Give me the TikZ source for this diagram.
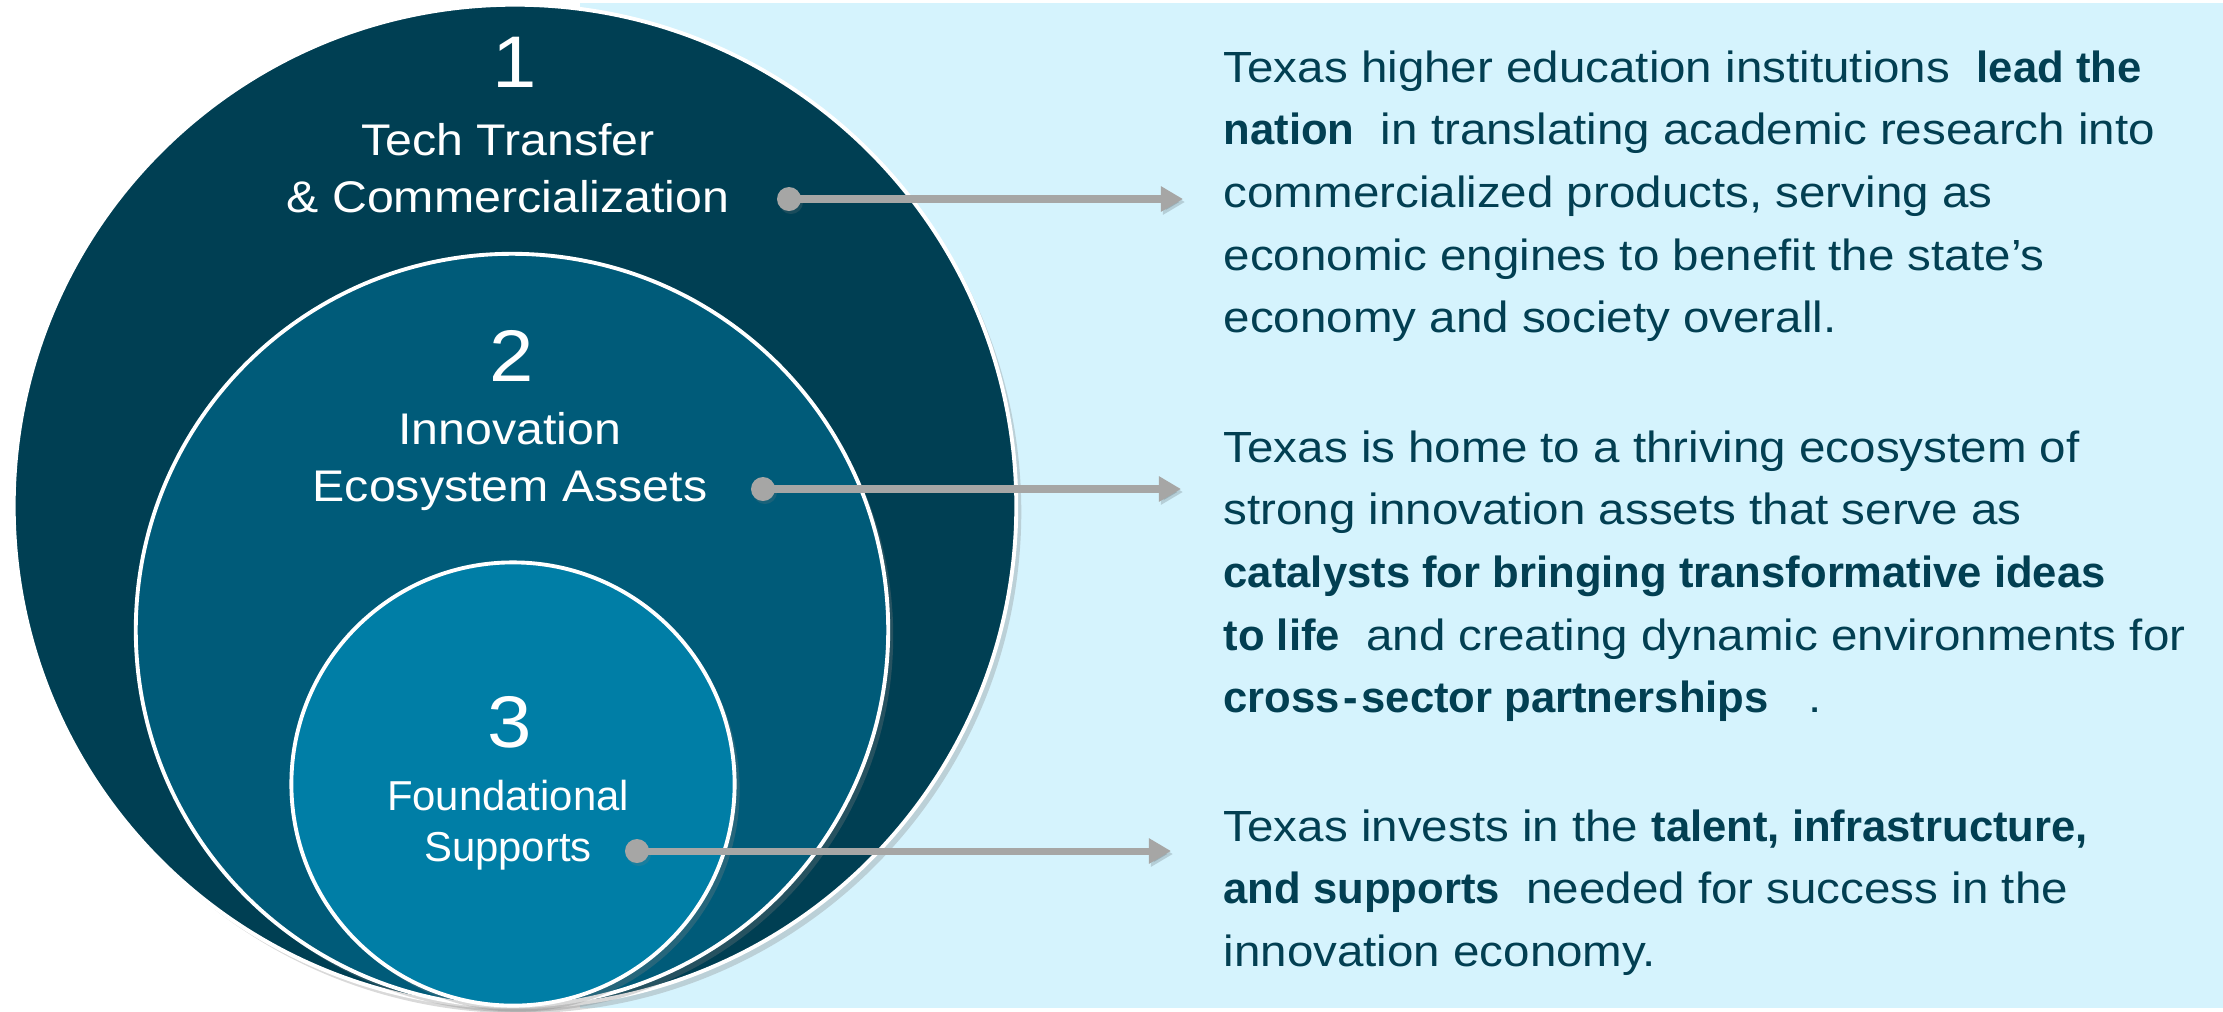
\documentclass[tikz,border=0pt]{standalone}
\usepackage{fontspec}
\setmainfont{Liberation Sans}
\newfontfamily\widefont{Liberation Sans}[FakeStretch=1.09]
\newcommand{\keyphrase}[1]{{\normalfont\bfseries #1}}
\usetikzlibrary{arrows.meta,shadows}

\definecolor{ringdark}{HTML}{003F53}
\definecolor{ringmid}{HTML}{005B79}
\definecolor{ringlight}{HTML}{007EA6}
\definecolor{paleblue}{HTML}{D5F3FD}
\definecolor{inktext}{HTML}{023F52}
\definecolor{pointergray}{HTML}{A6A6A5}

\begin{document}
\begin{tikzpicture}[
    x=0.01cm, y=0.01cm,
    ring/.style={circle, draw=white, line width=1.1pt, inner sep=0pt,
                 drop shadow={shadow xshift=0.05cm, shadow yshift=-0.06cm, opacity=0.3}},
    num/.style={text=white, inner sep=0pt, font=\widefont\fontsize{20.8}{25}\selectfont},
    tag/.style={text=white, align=center, inner sep=0pt, font=\widefont\fontsize{12.6}{16.2}\selectfont},
    blurb/.style={text=inktext, align=left, anchor=north west, inner sep=0pt,
                  font=\widefont\fontsize{12.4}{17.8}\selectfont},
    dot/.style={circle, fill=pointergray, inner sep=0pt, minimum size=0.24cm,
                drop shadow={shadow xshift=0.02cm, shadow yshift=-0.03cm, opacity=0.2}},
    pointer/.style={-{Triangle[length=0.22cm, width=0.24cm]}, draw=pointergray, line width=2pt,
                    preaction={draw=black, opacity=0.15, transform canvas={shift={(0.02cm,-0.03cm)}}}},
  ]
  \useasboundingbox (0,0) rectangle (2223,-1011);
  \fill[paleblue] (580,-3) rectangle (2223,-1008);

  % nested rings, all resting on the same bottom point
  \node[ring, fill=ringdark,  minimum size=10.02cm] (outer)  at (515,-506) {};
  \node[ring, fill=ringmid,   minimum size=7.52cm]  (middle) at (512,-630) {};
  \node[ring, fill=ringlight, minimum size=4.43cm]  (inner)  at (513,-784) {};

  \node[num] (n1) at (515,-62)  {1};
  \node[tag] (l1) at (508,-168) {Tech Transfer\\\& Commercialization};
  \node[num] (n2) at (512,-356) {2};
  \node[tag] (l2) at (510,-462) {Innovation\\Ecosystem Assets};
  \node[num] (n3) at (510,-722) {3};
  \node[tag, font=\normalfont\fontsize{11.9}{14.5}\selectfont] (l3) at (508,-825) {Foundational\\Supports};

  \node[blurb] (b1) at (1223,-50)
    {Texas higher education institutions\ \ \keyphrase{lead the}\\
     \keyphrase{nation}\ \ in translating academic research into\\
     commercialized products, serving as\\
     economic engines to benefit the state’s\\
     economy and society overall.};
  \node[blurb] (b2) at (1223,-430)
    {Texas is home to a thriving ecosystem of\\
     strong innovation assets that serve as\\
     \keyphrase{catalysts for bringing transformative ideas}\\
     \keyphrase{to life}\ \ and creating dynamic environments for\\
     \keyphrase{cross\kern1pt-\kern1pt sector partnerships}\ \ \ .};
  \node[blurb] (b3) at (1223,-809)
    {Texas invests in the \keyphrase{talent, infrastructure,}\\
     \keyphrase{and supports}\ \ needed for success in the\\
     innovation economy.};

  % pointers from each ring out to its description
  \node[dot] (d1) at (789,-199) {};
  \node[dot] (d2) at (763,-489) {};
  \node[dot] (d3) at (637,-851) {};
  \coordinate (t1) at (1183,-199);
  \coordinate (t2) at (1181,-489);
  \coordinate (t3) at (1171,-851);

  \draw[pointer] (d1.center) -- (t1);
  \draw[pointer] (d2.center) -- (t2);
  \draw[pointer] (d3.center) -- (t3);
\end{tikzpicture}
\end{document}
